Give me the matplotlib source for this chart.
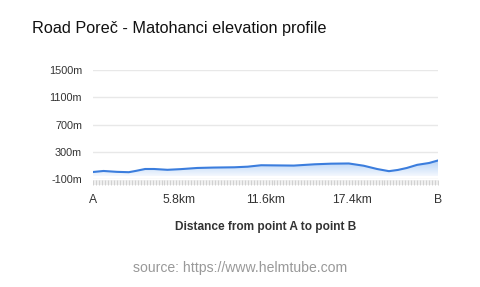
import matplotlib
matplotlib.use("Agg")
import matplotlib.pyplot as plt
import numpy as np
from matplotlib.patches import Rectangle

plt.rcParams['font.family'] = ['Liberation Sans', 'DejaVu Sans']

# elevation profile
distance_km = [0.0, 0.7, 1.6, 2.4, 2.9, 3.5, 4.1, 5.0, 5.9, 7.0, 8.1, 9.5, 10.4,
               11.3, 12.2, 13.5, 14.9, 16.0, 17.2, 18.2, 19.1, 19.9, 20.5, 21.1,
               21.8, 22.6, 23.2]
elevation_m = [3, 18, 5, 0, 20, 47, 47, 35, 45, 62, 68, 72, 81,
               102, 100, 97, 116, 125, 128, 95, 47, 15, 33, 62,
               108, 135, 172]

x_ticks = [0, 5.8, 11.6, 17.4, 23.2]
x_labels = ['A', '5.8km', '11.6km', '17.4km', 'B']
y_ticks = [-100, 300, 700, 1100, 1500]
y_labels = ['-100m', '300m', '700m', '1100m', '1500m']

fig = plt.figure(figsize=(4.8, 2.87), dpi=100)
ax = fig.add_axes([0.194, 0.3763, 0.7185, 0.3797])

x = np.array(distance_km)
y = np.array(elevation_m)
base = -55

# gradient fill under the line
poly = ax.fill_between(x, y, base, color='none', lw=0)
grad = np.linspace(1, 0, 100).reshape(-1, 1)
cmap = matplotlib.colors.LinearSegmentedColormap.from_list('g', ['#f4f8fe', '#b5d2f6'])
im = ax.imshow(grad, cmap=cmap, aspect='auto', extent=[x[0], x[-1], base, y.max()],
               origin='upper', zorder=1)
im.set_clip_path(poly.get_paths()[0], transform=ax.transData)

ax.plot(x, y, color='#3b7ddd', lw=1.5, zorder=3)

ax.set_xlim(0, 23.2)
ax.set_ylim(-100, 1500)
ax.set_yticks(y_ticks, y_labels)
ax.set_xticks(x_ticks, x_labels)
ax.tick_params(axis='y', length=0, pad=8, labelsize=7.8, labelcolor='#333333')
ax.tick_params(axis='x', length=0, pad=10.5, labelsize=8.7, labelcolor='#333333')
ax.grid(axis='y', color='#e8e8e8', lw=1)
ax.set_axisbelow(True)
for s in ax.spines.values():
    s.set_visible(False)

# band of small ticks below the plot
tr = ax.get_xaxis_transform()
ax.add_patch(Rectangle((0, -0.056), 23.2, 0.046, transform=tr, color='#efefef',
                       clip_on=False, lw=0))
ax.vlines(np.arange(0, 23.21, 0.2), -0.056, -0.01, transform=tr, color='#cccccc',
          lw=0.6, clip_on=False)

ax.set_xlabel('Distance from point A to point B', fontsize=8.6, fontweight='bold',
              color='#333333', labelpad=11)

fig.text(32 / 480, 1 - 28 / 287, 'Road Poreč - Matohanci elevation profile',
         fontsize=11.7, va='center', ha='left', color='#111111')
fig.text(0.5, 1 - 268 / 287, 'source: https://www.helmtube.com', fontsize=10.1,
         ha='center', va='center', color='#999999')

fig.savefig('out.png', dpi=100)
